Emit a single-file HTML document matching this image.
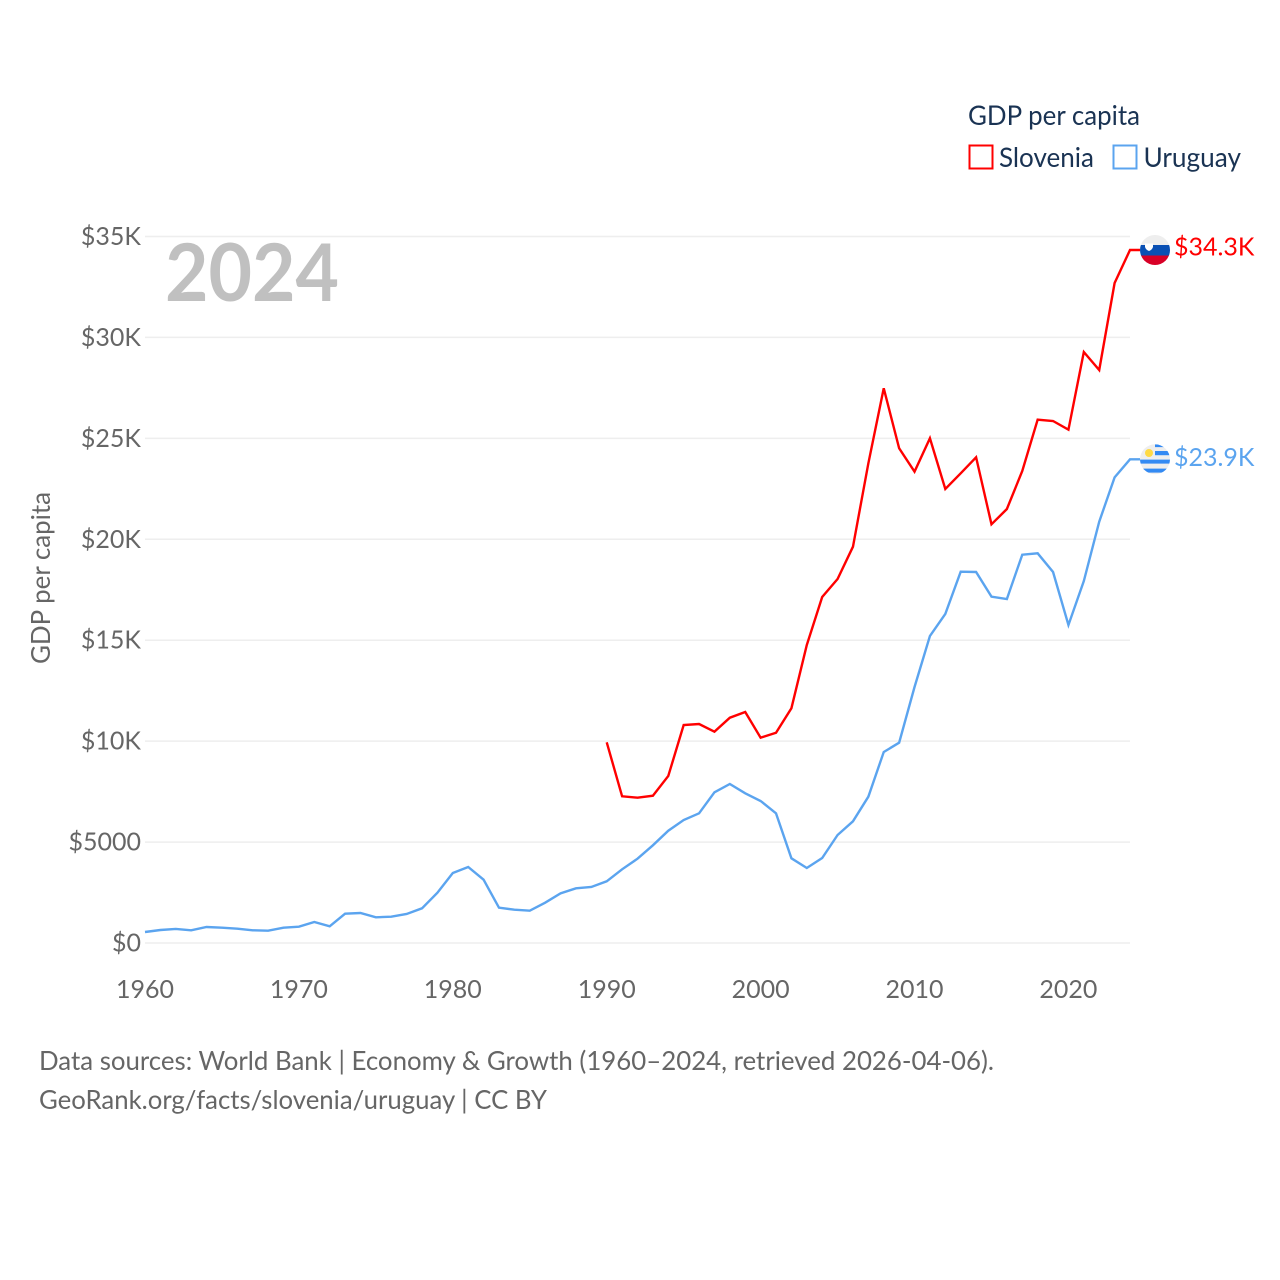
<!DOCTYPE html>
<html lang="en">
<head>
<meta charset="utf-8">
<title>GDP per capita: Slovenia and Uruguay</title>
<style>
html,body{margin:0;padding:0;background:#fff;}
svg{display:block;}
text{font-family:"Lato","Carlito","Liberation Sans",sans-serif;}
</style>
</head>
<body>
<svg id="chart" xmlns="http://www.w3.org/2000/svg" width="1280" height="1280" viewBox="0 0 1280 1280">
  <rect width="1280" height="1280" fill="#ffffff"/>
  <g id="grid"></g>
  <g id="yticks"></g>
  <g id="xticks"></g>
  <text x="165" y="301" font-size="80" font-weight="700" fill="#c0c0c0" textLength="174" lengthAdjust="spacingAndGlyphs">2024</text>
  <text transform="translate(50,664) rotate(-90)" font-size="26" fill="#666666" textLength="172" lengthAdjust="spacingAndGlyphs">GDP per capita</text>
  <g id="series"></g>
  <g id="flags">
    <defs>
      <clipPath id="flag-clip"><circle cx="0" cy="0" r="15"/></clipPath>
    </defs>
    <g id="flag-slovenia">
      <g clip-path="url(#flag-clip)">
        <rect x="-15" y="-15" width="30" height="10" fill="#eeeeee"/>
        <rect x="-15" y="-5" width="30" height="10.500" fill="#0a50b4"/>
        <rect x="-15" y="5.500" width="30" height="9.500" fill="#d80027"/>
        <path d="M-10,-6.500 h8 v3.500 q-1,3 -4,4 q-3,-1 -4,-4 z" fill="#ffffff"/>
      </g>
    </g>
    <g id="flag-uruguay">
      <g clip-path="url(#flag-clip)">
        <rect x="-15" y="-15" width="30" height="30" fill="#eeeeee"/>
        <rect x="0" y="-15" width="15" height="2.800" fill="#338af3"/>
        <rect x="0" y="-8.300" width="15" height="4.200" fill="#338af3"/>
        <rect x="-15" y="0.300" width="30" height="4" fill="#338af3"/>
        <rect x="-15" y="9.300" width="30" height="4" fill="#338af3"/>
        <circle cx="-6" cy="-6.300" r="4" fill="#ffda44"/>
      </g>
    </g>
  </g>
  <g id="end-labels"></g>
  <g>
    <text x="968" y="125" font-size="27" fill="#1a3353" textLength="172" lengthAdjust="spacingAndGlyphs">GDP per capita</text>
    <g>
      <rect x="969.500" y="145.500" width="23" height="23" fill="#ffffff" stroke="#ff0000" stroke-width="2"/>
      <text x="999" y="167" font-size="27" fill="#1a3353" textLength="95" lengthAdjust="spacingAndGlyphs">Slovenia</text>
    </g>
    <g>
      <rect x="1113.500" y="145.500" width="23" height="23" fill="#ffffff" stroke="#5ba4ef" stroke-width="2"/>
      <text x="1143.500" y="167" font-size="27" fill="#1a3353" textLength="97.500" lengthAdjust="spacingAndGlyphs">Uruguay</text>
    </g>
  </g>
  <g>
    <text x="39" y="1070" font-size="26" fill="#666666" textLength="955" lengthAdjust="spacingAndGlyphs">Data sources: World Bank | Economy &amp; Growth (1960–2024, retrieved 2026-04-06).</text>
    <text x="39" y="1109" font-size="26" fill="#666666" textLength="508" lengthAdjust="spacingAndGlyphs">GeoRank.org/facts/slovenia/uruguay | CC BY</text>
  </g>
</svg>
<script>
const years = [1960,1961,1962,1963,1964,1965,1966,1967,1968,1969,1970,1971,1972,1973,1974,1975,1976,1977,1978,1979,1980,1981,1982,1983,1984,1985,1986,1987,1988,1989,1990,1991,1992,1993,1994,1995,1996,1997,1998,1999,2000,2001,2002,2003,2004,2005,2006,2007,2008,2009,2010,2011,2012,2013,2014,2015,2016,2017,2018,2019,2020,2021,2022,2023,2024];
const uruguayValues = [545,644,694,629,793,758,708,629,610,758,807,1040,827,1452,1486,1273,1303,1437,1719,2492,3468,3765,3136,1749,1650,1600,1996,2462,2710,2774,3057,3651,4176,4840,5563,6093,6425,7466,7877,7416,7035,6425,4196,3715,4211,5350,6029,7248,9462,9923,12682,15209,16300,18394,18380,17156,17042,19237,19305,18380,15754,17934,20871,23070,23962];
const sloveniaYears = [1990,1991,1992,1993,1994,1995,1996,1997,1998,1999,2000,2001,2002,2003,2004,2005,2006,2007,2008,2009,2010,2011,2012,2013,2014,2015,2016,2017,2018,2019,2020,2021,2022,2023,2024];
const sloveniaValues = [9943,7267,7198,7297,8273,10800,10849,10468,11161,11444,10171,10418,11627,14763,17141,18033,19633,23764,27480,24507,23349,25003,22491,23269,24062,20742,21500,23383,25925,25860,25430,29278,28386,32696,34331];
const yTickValues = [0,5000,10000,15000,20000,25000,30000,35000];
const yTickLabels = ["$0","$5000","$10K","$15K","$20K","$25K","$30K","$35K"];
const xTickValues = [1960,1970,1980,1990,2000,2010,2020];
const sloveniaEndLabel = "$34.3K";
const uruguayEndLabel = "$23.9K";

const NS = "http://www.w3.org/2000/svg";
const xScale = y => 145 + (y - 1960) * (1130 - 145) / 64;
const yScale = v => 943 - v * (943 - 236.5) / 35000;

function makeEl(tag, attrs, parent, text) {
  const el = document.createElementNS(NS, tag);
  for (const k in attrs) el.setAttribute(k, attrs[k]);
  if (text !== undefined) el.textContent = text;
  parent.appendChild(el);
  return el;
}

const grid = document.getElementById("grid");
const yticks = document.getElementById("yticks");
const xticks = document.getElementById("xticks");
const seriesGroup = document.getElementById("series");
const endLabels = document.getElementById("end-labels");

yTickValues.forEach((v, i) => {
  const line = makeEl("line", {x1: 145, x2: 1130, y1: yScale(v), y2: yScale(v), stroke: "#eeeeee", "stroke-width": 1.5}, grid);
  
  
  const label = makeEl("text", {x: 141, y: yScale(v) + 8.5, "text-anchor": "end", "font-size": 25, fill: "#666666"}, yticks, yTickLabels[i]);
  
  
});

xTickValues.forEach(y => {
  const label = makeEl("text", {x: xScale(y), y: 998, "text-anchor": "middle", "font-size": 25, fill: "#666666"}, xticks, String(y));
  
  
});

function pathFor(xs, vs) {
  const main = xs.map((y, i) => (i ? "L" : "M") + xScale(y).toFixed(2) + "," + yScale(vs[i]).toFixed(2)).join(" ");
  return main + " H1140";
}

const lineSlovenia = makeEl("path", {d: pathFor(sloveniaYears, sloveniaValues), fill: "none", stroke: "#ff0000", "stroke-width": 2.4, "stroke-linejoin": "miter"}, seriesGroup);


const lineUruguay = makeEl("path", {d: pathFor(years, uruguayValues), fill: "none", stroke: "#5ba4ef", "stroke-width": 2.4, "stroke-linejoin": "miter"}, seriesGroup);



const slovEndY = yScale(sloveniaValues[sloveniaValues.length - 1]);
const uruEndY = yScale(uruguayValues[uruguayValues.length - 1]);
document.getElementById("flag-slovenia").setAttribute("transform", "translate(1155," + slovEndY + ")");
document.getElementById("flag-uruguay").setAttribute("transform", "translate(1155," + uruEndY + ")");

const slovLabel = makeEl("text", {x: 1174, y: slovEndY + 5.5, "font-size": 25, fill: "#ff0000"}, endLabels, sloveniaEndLabel);


const uruLabel = makeEl("text", {x: 1174, y: uruEndY + 6.5, "font-size": 25, fill: "#5ba4ef"}, endLabels, uruguayEndLabel);


</script>
</body>
</html>
